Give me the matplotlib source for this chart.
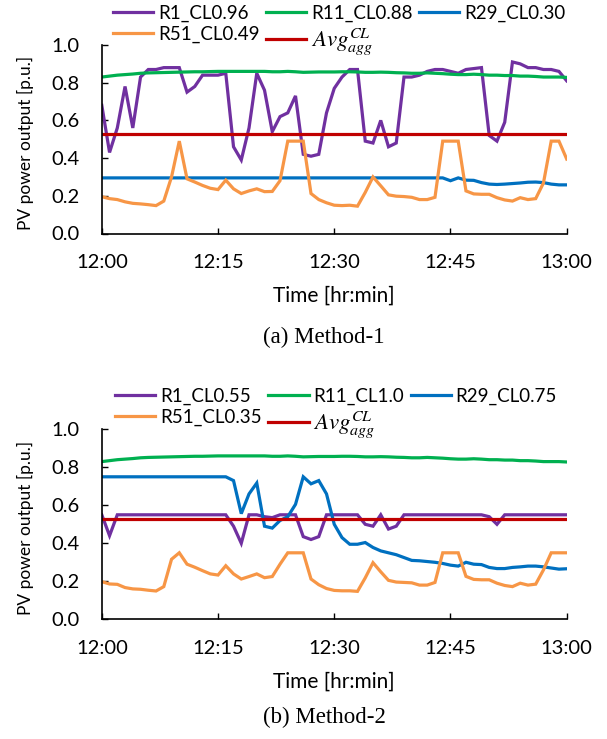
import matplotlib
matplotlib.use("Agg")
import matplotlib.pyplot as plt
import numpy as np

plt.rcParams['font.family'] = ['Lato', 'DejaVu Sans']
plt.rcParams['mathtext.fontset'] = 'stix'

# minutes after 12:00
minutes = np.arange(0, 61)
tick_pos = [0, 15, 30, 45, 60]
tick_labels = ['12:00', '12:15', '12:30', '12:45', '13:00']
y_ticks = [0.0, 0.2, 0.4, 0.6, 0.8, 1.0]

# (a) Method-1
r1_m1 = [0.68, 0.43, 0.56, 0.78, 0.56, 0.83, 0.87, 0.87, 0.88, 0.88,
         0.88, 0.75, 0.78, 0.84, 0.84, 0.84, 0.85, 0.46, 0.39, 0.56,
         0.85, 0.76, 0.54, 0.62, 0.64, 0.73, 0.42, 0.41, 0.42, 0.64,
         0.77, 0.83, 0.87, 0.87, 0.49, 0.48, 0.60, 0.46, 0.48, 0.83,
         0.83, 0.84, 0.86, 0.87, 0.87, 0.86, 0.85, 0.87, 0.875, 0.88,
         0.52, 0.49, 0.59, 0.91, 0.90, 0.88, 0.88, 0.87, 0.87, 0.86, 0.81]
r11_m1 = [0.83, 0.835, 0.84, 0.843, 0.846, 0.85, 0.852, 0.853, 0.854, 0.855,
          0.856, 0.857, 0.858, 0.858, 0.859, 0.86, 0.86, 0.86, 0.86, 0.86,
          0.86, 0.86, 0.858, 0.858, 0.86, 0.858, 0.855, 0.856, 0.857, 0.857,
          0.857, 0.858, 0.858, 0.857, 0.855, 0.855, 0.856, 0.855, 0.853, 0.852,
          0.85, 0.85, 0.852, 0.85, 0.848, 0.845, 0.843, 0.843, 0.845, 0.843,
          0.84, 0.84, 0.838, 0.838, 0.835, 0.835, 0.833, 0.83, 0.83, 0.83, 0.828]
r29_m1 = [0.295, 0.295, 0.295, 0.295, 0.295, 0.295, 0.295, 0.295, 0.295, 0.295,
          0.295, 0.295, 0.295, 0.295, 0.295, 0.295, 0.295, 0.295, 0.295, 0.295,
          0.295, 0.295, 0.295, 0.295, 0.295, 0.295, 0.295, 0.295, 0.295, 0.295,
          0.295, 0.295, 0.295, 0.295, 0.295, 0.295, 0.295, 0.295, 0.295, 0.295,
          0.295, 0.295, 0.295, 0.295, 0.295, 0.28, 0.295, 0.283, 0.282, 0.27,
          0.262, 0.26, 0.262, 0.265, 0.268, 0.272, 0.273, 0.27, 0.262, 0.258, 0.258]
r51_m1 = [0.195, 0.185, 0.18, 0.168, 0.16, 0.157, 0.153, 0.148, 0.172, 0.30,
          0.49, 0.29, 0.273, 0.255, 0.24, 0.233, 0.283, 0.237, 0.212, 0.226,
          0.237, 0.222, 0.223, 0.28, 0.49, 0.49, 0.49, 0.212, 0.18, 0.163,
          0.15, 0.148, 0.15, 0.145, 0.218, 0.30, 0.253, 0.205, 0.198, 0.196,
          0.192, 0.18, 0.18, 0.192, 0.49, 0.49, 0.49, 0.226, 0.21, 0.208,
          0.208, 0.19, 0.178, 0.172, 0.19, 0.18, 0.185, 0.268, 0.49, 0.49, 0.395]
avg_m1 = 0.53

# (b) Method-2
r1_m2 = [0.55, 0.44, 0.55, 0.55, 0.55, 0.55, 0.55, 0.55, 0.55, 0.55,
         0.55, 0.55, 0.55, 0.55, 0.55, 0.55, 0.55, 0.49, 0.40, 0.55,
         0.55, 0.54, 0.535, 0.55, 0.55, 0.55, 0.435, 0.42, 0.435, 0.55,
         0.55, 0.55, 0.55, 0.55, 0.50, 0.49, 0.55, 0.475, 0.49, 0.55,
         0.55, 0.55, 0.55, 0.55, 0.55, 0.55, 0.55, 0.55, 0.55, 0.55,
         0.54, 0.50, 0.55, 0.55, 0.55, 0.55, 0.55, 0.55, 0.55, 0.55, 0.55]
r11_m2 = [0.83, 0.835, 0.84, 0.843, 0.846, 0.85, 0.852, 0.853, 0.854, 0.855,
          0.856, 0.857, 0.858, 0.858, 0.859, 0.86, 0.86, 0.86, 0.86, 0.86,
          0.86, 0.86, 0.858, 0.858, 0.86, 0.858, 0.855, 0.856, 0.857, 0.857,
          0.857, 0.858, 0.858, 0.857, 0.855, 0.855, 0.856, 0.855, 0.853, 0.852,
          0.85, 0.85, 0.852, 0.85, 0.848, 0.845, 0.843, 0.843, 0.845, 0.843,
          0.84, 0.84, 0.838, 0.838, 0.835, 0.835, 0.833, 0.83, 0.83, 0.83, 0.828]
r29_m2 = [0.75, 0.75, 0.75, 0.75, 0.75, 0.75, 0.75, 0.75, 0.75, 0.75,
          0.75, 0.75, 0.75, 0.75, 0.75, 0.75, 0.75, 0.73, 0.556, 0.66,
          0.717, 0.49, 0.48, 0.52, 0.54, 0.605, 0.75, 0.713, 0.73, 0.66,
          0.50, 0.43, 0.395, 0.395, 0.404, 0.378, 0.36, 0.35, 0.34, 0.325,
          0.31, 0.308, 0.304, 0.30, 0.294, 0.285, 0.28, 0.30, 0.29, 0.288,
          0.273, 0.267, 0.267, 0.273, 0.276, 0.28, 0.28, 0.276, 0.27, 0.264, 0.266]
r51_m2 = [0.198, 0.186, 0.184, 0.167, 0.16, 0.158, 0.153, 0.149, 0.172, 0.316,
          0.35, 0.29, 0.274, 0.256, 0.239, 0.233, 0.282, 0.239, 0.212, 0.225,
          0.239, 0.219, 0.225, 0.29, 0.35, 0.35, 0.35, 0.212, 0.182, 0.162,
          0.152, 0.15, 0.15, 0.147, 0.218, 0.298, 0.25, 0.205, 0.196, 0.194,
          0.192, 0.18, 0.18, 0.194, 0.35, 0.35, 0.35, 0.226, 0.21, 0.208,
          0.208, 0.19, 0.178, 0.172, 0.19, 0.18, 0.185, 0.26, 0.35, 0.35, 0.35]
avg_m2 = 0.53

colors = {'R1': '#7030A0', 'R11': '#00B050', 'R29': '#0070C0',
          'R51': '#F79646', 'avg': '#C00000'}
avg_label = r'$Avg_{agg}^{CL}$'

fig = plt.figure(figsize=(6.07, 7.39), dpi=100)
W, H = 607, 739


def panel(rect, series, labels, avg, legend_xy, caption, cap_y):
    ax = fig.add_axes(rect)
    keys = ['R1', 'R11', 'R29', 'R51']
    handles = []
    for k, s, lab in zip(keys, series, labels):
        h, = ax.plot(minutes, s, color=colors[k], lw=2.3, label=lab,
                     solid_joinstyle='miter')
        handles.append(h)
    h, = ax.plot(minutes, [avg] * len(minutes), color=colors['avg'], lw=2.3, label=avg_label)
    handles.append(h)
    ax.set_xlim(0, 60)
    ax.set_ylim(0, 1.0)
    ax.set_xticks(tick_pos)
    ax.set_xticklabels(tick_labels)
    ax.set_yticks(y_ticks)
    ax.set_yticklabels([f'{v:.1f}' for v in y_ticks])
    for sp in ['top', 'right']:
        ax.spines[sp].set_visible(False)
    for sp in ['left', 'bottom']:
        ax.spines[sp].set_linewidth(1.2)
    ax.tick_params(direction='in', length=4, width=1.0, labelsize=14.5, pad=15)
    ax.tick_params(axis='y', pad=16)
    ax.set_xlabel('Time [hr:min]', fontsize=15)
    ax.xaxis.set_label_coords(0.5, -0.33)
    ax.xaxis.label.set_verticalalignment('center')
    ax.set_ylabel('PV power output [p.u.]', fontsize=12.5)
    ax.yaxis.set_label_coords(-0.165, 0.48)
    ax.yaxis.label.set_verticalalignment('center')
    # row-major order for the 3-column legend
    order = [0, 3, 1, 4, 2]
    leg = fig.legend([handles[i] for i in order], [handles[i].get_label() for i in order],
                     loc='upper left', bbox_to_anchor=legend_xy, ncol=3, frameon=False,
                     fontsize=13.5, handlelength=2.15, handletextpad=0.25, columnspacing=0.35,
                     labelspacing=0.2, borderpad=0, borderaxespad=0)
    leg.get_texts()[3].set_fontsize(16.5)
    fig.text(324 / W, 1 - cap_y / H, caption, ha='center', va='center',
             fontsize=16.5, family='Liberation Serif')
    return ax


panel([101.8 / W, 1 - 233.5 / H, 464.9 / W, 188.5 / H],
      [r1_m1, r11_m1, r29_m1, r51_m1],
      ['R1_CL0.96', 'R11_CL0.88', 'R29_CL0.30', 'R51_CL0.49'],
      avg_m1, (113 / W, 1 - 5 / H), '(a) Method-1', 337)

panel([101.8 / W, 1 - 619.3 / H, 464.9 / W, 190 / H],
      [r1_m2, r11_m2, r29_m2, r51_m2],
      ['R1_CL0.55', 'R11_CL1.0', 'R29_CL0.75', 'R51_CL0.35'],
      avg_m2, (115 / W, 1 - 388 / H), '(b) Method-2', 717)

fig.savefig('out.png', dpi=100)
